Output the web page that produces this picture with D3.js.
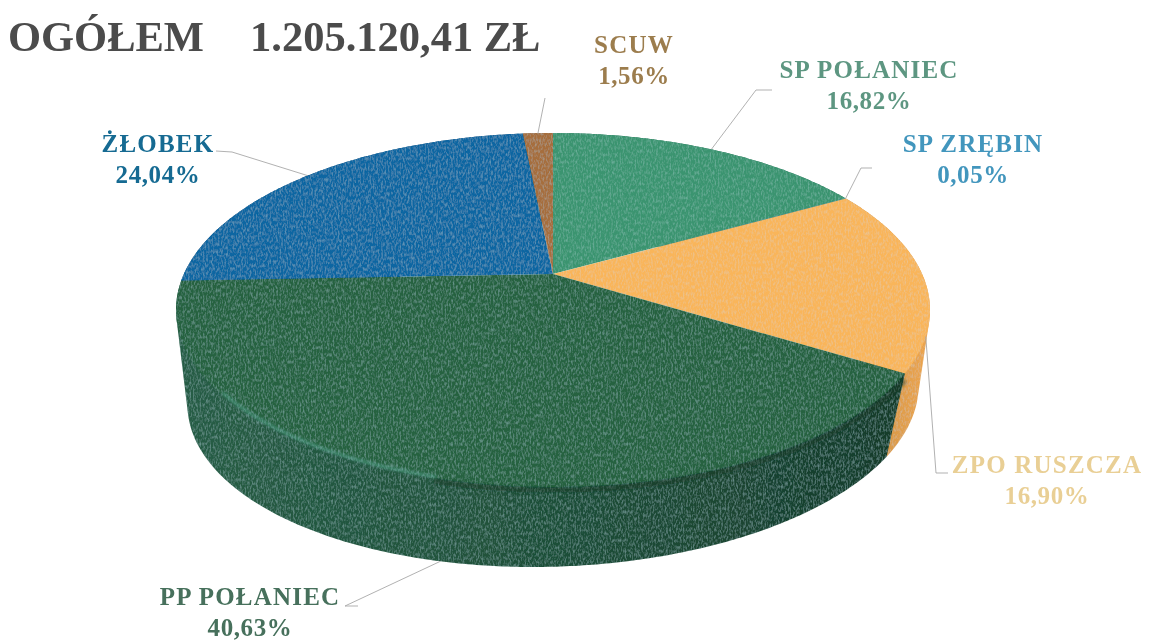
<!DOCTYPE html>
<html>
<head>
<meta charset="utf-8">
<script src="https://cdn.jsdelivr.net/npm/d3@7"></script>
<style>
  html, body { margin: 0; padding: 0; background: #fff; }
  svg { display: block; }
  text { font-family: "Liberation Serif", serif; font-weight: bold; text-anchor: middle; }
</style>
</head>
<body>
<div id="chart"></div>
<script>
const categories = ["SP POŁANIEC", "SP ZRĘBIN", "ZPO RUSZCZA", "PP POŁANIEC", "ŻŁOBEK", "SCUW"];
const shares = [16.82, 0.05, 16.90, 40.63, 24.04, 1.56];
const shareLabels = ["16,82%", "0,05%", "16,90%", "40,63%", "24,04%", "1,56%"];
const titleLeft = "OGÓŁEM";
const titleRight = "1.205.120,41 ZŁ";

// Colors
const topColors = ["#3b9470", "#4aa0b8", "#f9b55a", "#256241", "#0a66a2", "#a66e3c"];
const sideColors = ["#2f7a5c", "#3a8096", "#cf8f42", "#1f5039", "#08507e", "#80552f"];
const textColors = ["#5d9681", "#4396bd", "#e9cf95", "#46705b", "#136a92", "#9c7d4e"];

// Label placement: text centre, first baseline, elbow of the leader line
const labelX = [869, 973, 1047, 250, 158, 634];
const labelY = [78, 152, 473, 605, 152, 53];
const elbowA = [[772, 90], [872, 168], [948, 473], [358, 606], [216, 151], [545, 98]];
const elbowB = [[756, 90], [861, 168], [936, 473], [345, 606], [232, 152], [545, 98]];
// where on the slice the leader lands (0..1) and on which rim
const anchorFrac = [0.5, 0.5, 0.81, 0.482, 0.5, 0.5];
const anchorRim = ["top", "top", "top", "bottom", "top", "top"];

const width = 1149, height = 641;

// Top and bottom faces of the disc, as seen on the page
const topFace = { cx: 553, cy: 310, rx: 377, ry: 177, shear: 0 };
const bottomFace = { cx: 553, cy: 395, rx: 365, ry: 172, shear: -20 };
const tilt = -0.203; // moves the pie centre back from the middle of the ellipse

// Perspective: unit circle -> ellipse, with the circle's centre landing above ellipse middle
function project(face, angle, r) {
    const u = r * Math.sin(angle), v = -r * Math.cos(angle);
    const w = 1 + tilt * v;
    const s = Math.sqrt(1 - tilt * tilt) * u / w;
    const t = (v + tilt) / w;
    return [face.cx + face.rx * s + face.shear * Math.max(0, t), face.cy + face.ry * t];
}

const pie = d3.pie().sort(null).value(d => d)(shares);
pie.forEach((d, i) => { d.idx = i; });
const line = d3.line();

function arcAngles(a0, a1) {
    const n = Math.max(2, Math.ceil((a1 - a0) / 0.01));
    return d3.range(n + 1).map(i => a0 + (a1 - a0) * i / n);
}

const svg = d3.select("#chart").append("svg")
    .attr("width", width)
    .attr("height", height);

const defs = svg.append("defs");

// Speckled print texture
const grain = defs.append("filter").attr("id", "grain")
    .attr("x", 0).attr("y", 0).attr("width", 1).attr("height", 1);
grain.append("feTurbulence")
    .attr("type", "fractalNoise").attr("baseFrequency", "0.6 0.28")
    .attr("numOctaves", 2).attr("seed", 4).attr("result", "noise");
grain.append("feColorMatrix").attr("in", "noise").attr("type", "matrix")
    .attr("values", "0 0 0 0 0.45  0 0 0 0 0.8  0 0 0 0 0.8  0.6 0 0 0 -0.26")
    .attr("result", "speck");
grain.append("feComposite").attr("in", "speck").attr("in2", "SourceGraphic")
    .attr("operator", "in").attr("result", "speckIn");
const merge = grain.append("feMerge");
merge.append("feMergeNode").attr("in", "SourceGraphic");
merge.append("feMergeNode").attr("in", "speckIn");

const soft = defs.append("filter").attr("id", "soft");
soft.append("feGaussianBlur").attr("stdDeviation", 0.45);
const rimBlur = defs.append("filter").attr("id", "rimBlur")
    .attr("filterUnits", "userSpaceOnUse")
    .attr("x", 0).attr("y", 0).attr("width", width).attr("height", height);
rimBlur.append("feGaussianBlur").attr("stdDeviation", 1.8);

// Side of the big slice gets darker towards the right
const sideGrad = defs.append("linearGradient").attr("id", "sideGreen");
sideGrad.append("stop").attr("offset", "0%").attr("stop-color", "#275d45");
sideGrad.append("stop").attr("offset", "50%").attr("stop-color", "#1f5039");
sideGrad.append("stop").attr("offset", "100%").attr("stop-color", "#163c2b");

const orangeGrad = defs.append("linearGradient").attr("id", "sideOrange");
orangeGrad.append("stop").attr("offset", "0%").attr("stop-color", "#c08a42");
orangeGrad.append("stop").attr("offset", "100%").attr("stop-color", "#eea64f");

const sideFill = i => i === 3 ? "url(#sideGreen)" : i === 2 ? "url(#sideOrange)" : sideColors[i];

const disc = svg.append("g").attr("filter", "url(#grain)");

// Side walls first (back slices before front ones), the top face covers what runs behind
const midFront = d => -Math.cos((d.startAngle + d.endAngle) / 2);
disc.append("g").selectAll("path")
    .data(pie.slice().sort((a, b) => midFront(a) - midFront(b)))
    .join("path")
    .attr("fill", d => sideFill(d.idx))
    .attr("d", d => {
        const as = arcAngles(d.startAngle, d.endAngle);
        const hull = d3.polygonHull(as.map(a => project(topFace, a, 1))
            .concat(as.map(a => project(bottomFace, a, 1))));
        return line(hull) + "Z";
    });

// Top face
disc.append("g").selectAll("path")
    .data(pie)
    .join("path")
    .attr("fill", (d, i) => topColors[i])
    .attr("d", d => {
        const pts = [project(topFace, 0, 0)]
            .concat(arcAngles(d.startAngle, d.endAngle).map(a => project(topFace, a, 1)));
        return line(pts) + "Z";
    });

// Shade under the front rim, right part of the big slice
svg.append("path")
    .attr("fill", "none")
    .attr("stroke", "#123726")
    .attr("stroke-width", 5)
    .attr("stroke-opacity", 0.5)
    .attr("filter", "url(#rimBlur)")
    .attr("d", line(arcAngles(pie[3].startAngle + 0.03, 3.4).map(a => project(topFace, a, 1.012))));

// Light catching the front rim of the big slice
svg.append("path")
    .attr("fill", "none")
    .attr("stroke", "#5fb0a0")
    .attr("stroke-width", 2.6)
    .attr("stroke-opacity", 0.6)
    .attr("filter", "url(#rimBlur)")
    .attr("d", line(arcAngles(3.4, 4.05).map(a => project(topFace, a, 0.995))));

// Leader lines
svg.append("g").selectAll("path")
    .data(pie)
    .join("path")
    .attr("fill", "none")
    .attr("stroke", "#a8a8a8")
    .attr("stroke-width", 0.9)
    .attr("d", (d, i) => {
        const a = d.startAngle + (d.endAngle - d.startAngle) * anchorFrac[i];
        const end = project(anchorRim[i] === "top" ? topFace : bottomFace, a, 1);
        return line([elbowA[i], elbowB[i], end]);
    });

// Labels
const labels = svg.append("g").attr("filter", "url(#soft)");
categories.forEach((name, i) => {
    labels.append("text")
        .attr("x", labelX[i]).attr("y", labelY[i])
        .attr("font-size", 25).attr("letter-spacing", 1.2)
        .attr("fill", textColors[i])
        .text(name);
    labels.append("text")
        .attr("x", labelX[i]).attr("y", labelY[i] + 30.5)
        .attr("font-size", 25).attr("letter-spacing", 0.6)
        .attr("fill", textColors[i])
        .text(shareLabels[i]);
});

// Title
labels.append("text")
    .attr("x", 8).attr("y", 51)
    .attr("font-size", 42.5).attr("fill", "#4b4b4b")
    .style("text-anchor", "start")
    .text(titleLeft);
labels.append("text")
    .attr("x", 250).attr("y", 51)
    .attr("font-size", 42.5).attr("fill", "#4b4b4b")
    .style("text-anchor", "start")
    .text(titleRight);
</script>
</body>
</html>
